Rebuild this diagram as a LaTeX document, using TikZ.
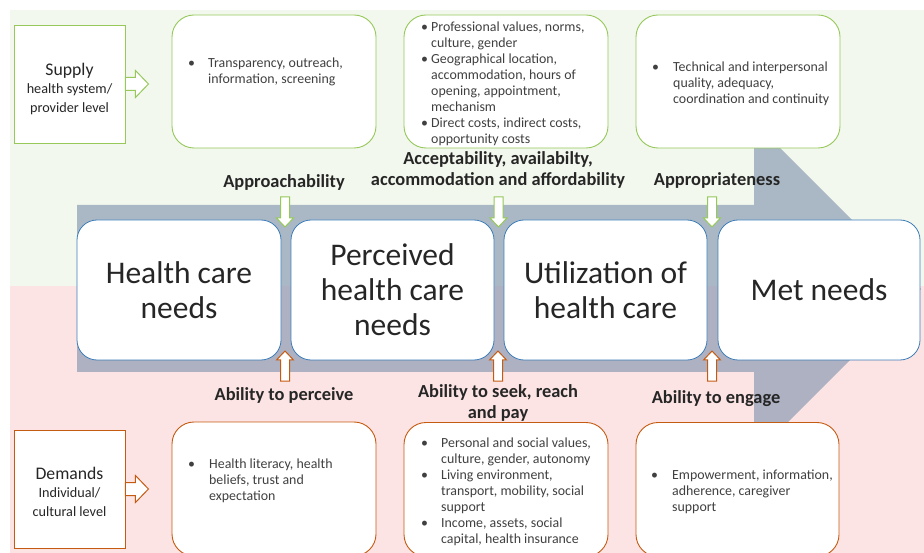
\documentclass[tikz,border=0pt]{standalone}
\usepackage{fontspec}
\setmainfont{Carlito}
\definecolor{bggreen}{RGB}{242,248,237}
\definecolor{bgpink}{RGB}{253,228,228}
\definecolor{flow}{HTML}{8497B0}
\definecolor{boxblue}{RGB}{60,125,185}
\definecolor{lgreen}{RGB}{150,200,90}
\definecolor{rorange}{RGB}{197,90,17}
\definecolor{txt}{RGB}{38,38,38}
\definecolor{stxt}{RGB}{64,64,64}
\newcommand\bl[1]{\makebox[#1][l]{\textbullet}}
\newcommand\ct[1]{\hspace*{#1}}
\begin{document}
\begin{tikzpicture}[x=1pt,y=-1pt,
  stage/.style={draw=boxblue, line width=0.8pt, fill=white, rounded corners=20pt,
    minimum height=140pt, text=txt, font=\fontsize{31.5}{35}\selectfont, align=center, inner sep=0pt},
  gbox/.style={draw=lgreen, line width=0.9pt, fill=white, rounded corners=22pt,
    minimum width=204pt, minimum height=133pt, inner sep=0pt},
  obox/.style={draw=rorange, line width=0.9pt, fill=white, rounded corners=22pt,
    minimum width=204pt, minimum height=134pt, inner sep=0pt},
  sidebox/.style={line width=0.9pt, fill=white, minimum width=111pt, minimum height=118pt, inner sep=0pt},
  sidetext/.style={inner sep=0pt, align=center, text=txt, font=\fontsize{14.2}{18.5}\selectfont},
  lab/.style={font=\fontsize{18.4}{21}\selectfont\bfseries, text=txt, inner sep=0pt, align=center},
  itm/.style={font=\fontsize{13.9}{16}\selectfont, text=stxt, inner sep=0pt, anchor=base west},
  downarr/.pic={\draw[draw=lgreen, fill=white, line width=1pt]
    (-4.5,0) -- (4.5,0) -- (4.5,21) -- (8.5,21) -- (0,30) -- (-8.5,21) -- (-4.5,21) -- cycle;},
  uparr/.pic={\draw[draw=rorange, fill=white, line width=1pt]
    (-4.5,0) -- (4.5,0) -- (4.5,-21) -- (8.5,-21) -- (0,-30) -- (-8.5,-21) -- (-4.5,-21) -- cycle;},
  rarr/.pic={\draw[pic actions, fill=white, line width=1pt]
    (0,-6.5) -- (10,-6.5) -- (10,-13.5) -- (23,0) -- (10,13.5) -- (10,6.5) -- (0,6.5) -- cycle;}
]
\clip (0,0) rectangle (924,553);
\fill[white] (0,0) rectangle (924,553);
% backgrounds
\fill[bggreen] (10,10) rectangle (924,286);
\fill[bgpink] (10,286) rectangle (924,553);
% big flow arrow
\fill[flow, fill opacity=0.65] (77,205) -- (754,205) -- (754,122) -- (921,289) -- (754,456) -- (754,372) -- (77,372) -- cycle;
% stages
\node[stage, minimum width=204pt] (s1) at (179,290) {Health care\\needs};
\node[stage, minimum width=203pt] (s2) at (392.5,290) {Perceived\\health care\\needs};
\node[stage, minimum width=203pt] (s3) at (605.5,290) {Utilization of\\health care};
\node[stage, minimum width=202pt] (s4) at (819,290) {Met needs};
% supply side
\node[sidebox, draw=lgreen] (sup) at (69.5,84) {};
\node[sidetext] (supT) at (69.5,89) {{\fontsize{17.7}{18.5}\selectfont Supply}\\health system/\\provider level};
\pic[draw=lgreen] at (sup.east) {rarr};
\node[gbox] (gA) at (274,81.5) {};
\node[gbox] (gB) at (506,81.5) {};
\node[gbox] (gC) at (738,81.5) {};
\node[itm] (tA) at (188,68) {\parbox[t]{180pt}{\raggedright\bl{20pt}Transparency, outreach,\\\ct{20pt}information, screening}};
\node[itm] (tB) at (421,32) {\parbox[t]{185pt}{\raggedright\bl{10pt}Professional values, norms,\\\ct{10pt}culture, gender\\\bl{10pt}Geographical location,\\\ct{10pt}accommodation, hours of\\\ct{10pt}opening, appointment,\\\ct{10pt}mechanism\\\bl{10pt}Direct costs, indirect costs,\\\ct{10pt}opportunity costs}};
\node[itm] (tC) at (652,72) {\parbox[t]{185pt}{\raggedright\bl{21pt}Technical and interpersonal\\\ct{21pt}quality, adequacy,\\\ct{21pt}coordination and continuity}};
% supply labels
\node[lab] (lApp) at (284,182.5) {Approachability};
\node[lab] (lAcc) at (498,169.5) {Acceptability, availabilty,\\accommodation and affordability};
\node[lab] (lAppr) at (717,180) {Appropriateness};
\pic at (285,197) {downarr};
\pic at (498.5,197) {downarr};
\pic at (712,197) {downarr};
% demand side
\pic at (285,381) {uparr};
\pic at (498,381) {uparr};
\pic at (712,381) {uparr};
\node[lab] (lPer) at (284,395) {Ability to perceive};
\node[lab] (lSeek) at (498,402.5) {Ability to seek, reach\\and pay};
\node[lab] (lEng) at (716,399) {Ability to engage};
\node[sidebox, draw=rorange] (dem) at (69.5,489) {};
\node[sidetext] (demT) at (69.5,491.5) {{\fontsize{17.7}{18.5}\selectfont Demands}\\Individual/\\cultural level};
\pic[draw=rorange] at (dem.east) {rarr};
\node[obox] (oD) at (274,489) {};
\node[obox] (oE) at (506,489.5) {};
\node[obox, minimum width=203pt] (oF) at (737.5,489.5) {};
\node[itm] (tD) at (188,468.5) {\parbox[t]{180pt}{\raggedright\bl{21pt}Health literacy, health\\\ct{21pt}beliefs, trust and\\\ct{21pt}expectation}};
\node[itm] (tE) at (421,447.5) {\parbox[t]{185pt}{\raggedright\bl{20pt}Personal and social values,\\\ct{20pt}culture, gender, autonomy\\\bl{20pt}Living environment,\\\ct{20pt}transport, mobility, social\\\ct{20pt}support\\\bl{20pt}Income, assets, social\\\ct{20pt}capital, health insurance}};
\node[itm] (tF) at (651,479.5) {\parbox[t]{185pt}{\raggedright\bl{21pt}Empowerment, information,\\\ct{21pt}adherence, caregiver\\\ct{21pt}support}};
\end{tikzpicture}
\end{document}
